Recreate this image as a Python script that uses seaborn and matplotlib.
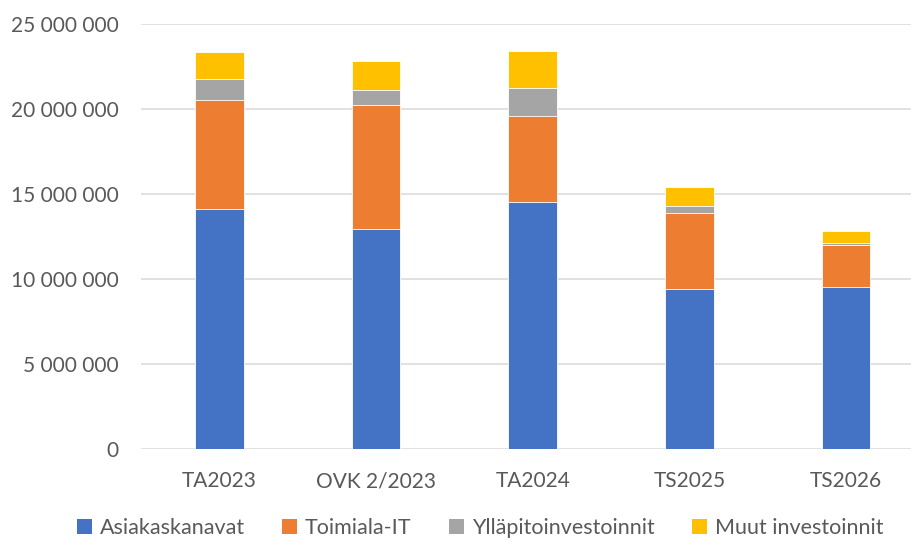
import numpy as np
import pandas as pd
import matplotlib
matplotlib.use("Agg")
import matplotlib.pyplot as plt
import matplotlib.ticker as mticker
from matplotlib.patches import Patch
import seaborn as sns

# values
categories = ["TA2023", "OVK 2/2023", "TA2024", "TS2025", "TS2026"]
asiakaskanavat = [14120000, 12920000, 14510000, 9390000, 9530000]
toimiala_it = [6410000, 7330000, 5080000, 4470000, 2470000]
yllapito = [1230000, 850000, 1660000, 420000, 120000]
muut = [1590000, 1720000, 2180000, 1150000, 720000]

series_names = ["Asiakaskanavat", "Toimiala-IT", "Ylläpitoinvestoinnit", "Muut investoinnit"]
colors = ["#4472C4", "#ED7D31", "#A5A5A5", "#FFC000"]

df = pd.DataFrame({"kategoria": categories,
                   series_names[0]: asiakaskanavat,
                   series_names[1]: toimiala_it,
                   series_names[2]: yllapito,
                   series_names[3]: muut})
cum = df[series_names].cumsum(axis=1)

sns.set_style("white")
plt.rcParams["font.family"] = ["Lato", "DejaVu Sans"]

fig = plt.figure(figsize=(9.12, 5.42), dpi=100)
ax = fig.add_axes([141 / 912, 93 / 542, (912 - 141) / 912, 425 / 542])

# draw the cumulative totals from the top down so each layer covers the one above
for name, col in reversed(list(zip(series_names, colors))):
    sns.barplot(x=df["kategoria"], y=cum[name], color=col, width=0.31,
                saturation=1, edgecolor="white", linewidth=0.6, ax=ax, zorder=3)

ax.set_ylim(0, 25000000)
ax.set_xlim(-0.5, 4.42)
ax.yaxis.set_major_locator(mticker.MultipleLocator(5000000))
ax.yaxis.set_major_formatter(mticker.FuncFormatter(lambda v, p: f"{int(v):,}".replace(",", " ")))
ax.grid(axis="y", color="#D9D9D9", linewidth=1.1, zorder=0)
ax.set_axisbelow(True)
for s in ax.spines.values():
    s.set_visible(False)
ax.set_xlabel("")
ax.set_ylabel("")
ax.tick_params(axis="y", length=0, pad=16, labelsize=15, labelcolor="#595959")
ax.tick_params(axis="x", length=0, pad=16, labelsize=15, labelcolor="#595959")

handles = [Patch(facecolor=c, edgecolor="none", label=n) for n, c in zip(series_names, colors)]
fig.legend(handles=handles, loc="center", bbox_to_anchor=(480 / 912, 14 / 542), ncol=4,
           frameon=False, fontsize=15.5, labelcolor="#595959", handlelength=0.7,
           handleheight=0.7, handletextpad=0.35, columnspacing=1.75)

fig.savefig("out.png", dpi=100)
